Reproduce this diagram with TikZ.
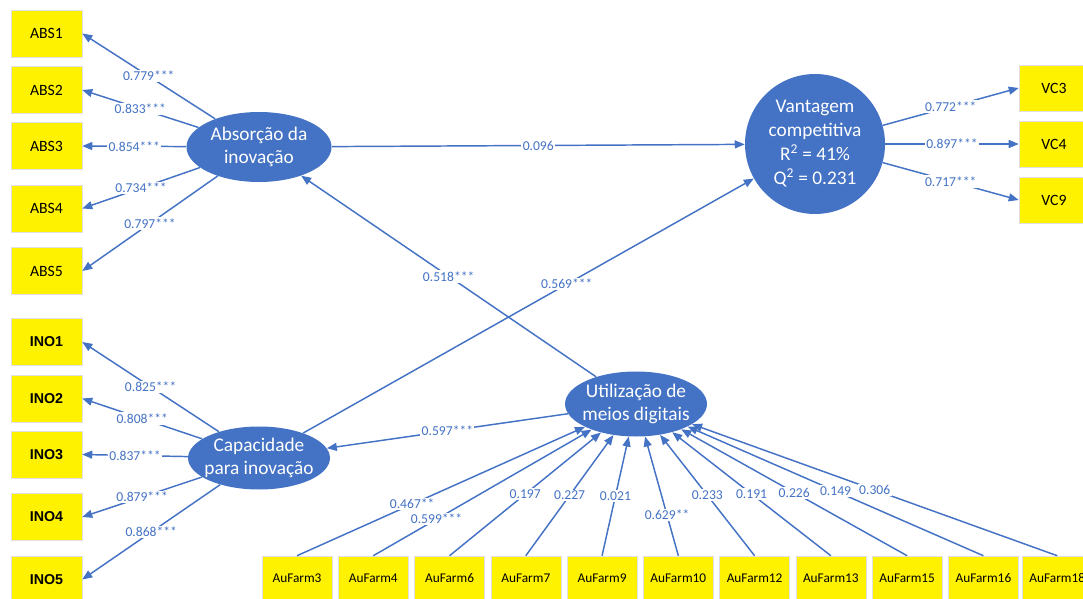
\documentclass[tikz,border=0pt]{standalone}
\usepackage{fontspec}
\setmainfont{Carlito}
\newfontfamily\inofont{Liberation Sans}
\usetikzlibrary{positioning, shapes.geometric, arrows.meta}

\definecolor{plsblue}{HTML}{4472C4}

\tikzset{
  latent/.style={ellipse, fill=plsblue, text=white, align=center, inner xsep=-5pt, inner ysep=0pt, font=\fontsize{14.5}{17.3}\selectfont},
  indicator/.style={rectangle, fill=yellow, draw=black!12, minimum width=53.25pt, minimum height=35.25pt, inner sep=0pt, font=\fontsize{11.8}{13}\selectfont},
  inobox/.style={indicator, font=\inofont\bfseries\fontsize{10.7}{13}\selectfont},
  farm/.style={indicator, minimum width=52.5pt, minimum height=33pt, font=\fontsize{10}{12}\selectfont},
  load/.style={draw=plsblue, line width=1.1pt, -{Triangle[length=7.5pt, width=6pt]}},
  coef/.style={fill=white, text=plsblue, inner sep=1pt, font=\fontsize{10.2}{12}\selectfont}
}

\begin{document}
\begin{tikzpicture}[x=0.75pt, y=-0.75pt]
  \useasboundingbox (0,0) rectangle (1083,599);

  % constructs
  \node[latent, minimum width=108.75pt, minimum height=52.5pt] (abs) at (259,147) {Absorção da\\inovação};
  \node[latent, minimum width=106.5pt, minimum height=47.25pt] (ino) at (259,458) {Capacidade\\para inovação};
  \node[latent, minimum width=106.5pt, minimum height=48.75pt] (util) at (636,404) {Utilização de\\meios digitais};
  \node[latent, circle, minimum size=105pt, inner sep=0pt, font=\fontsize{14.5}{18}\selectfont] (vc) at (815,144) {Vantagem\\competitiva\\R\textsuperscript{2} = 41\%\\Q\textsuperscript{2} = 0.231};

  % indicators
  \node[indicator] (abs1) at (46.5,33.5) {ABS1};
  \node[indicator] (abs2) at (46.5,90) {ABS2};
  \node[indicator] (abs3) at (46.5,146) {ABS3};
  \node[indicator] (abs4) at (46.5,208.5) {ABS4};
  \node[indicator] (abs5) at (46.5,271) {ABS5};

  \node[inobox] (ino1) at (46.5,342) {INO1};
  \node[inobox] (ino2) at (46.5,398.5) {INO2};
  \node[inobox] (ino3) at (46.5,454.5) {INO3};
  \node[inobox] (ino4) at (46.5,517) {INO4};
  \node[inobox] (ino5) at (46.5,579.5) {INO5};

  \node[indicator, minimum width=52.5pt, minimum height=34.5pt] (vc3) at (1054,88) {VC3};
  \node[indicator, minimum width=52.5pt, minimum height=34.5pt] (vc4) at (1054,144) {VC4};
  \node[indicator, minimum width=52.5pt, minimum height=34.5pt] (vc9) at (1054,200) {VC9};

  \node[farm] (f3) at (297,578) {AuFarm3};
  \node[farm, right=4.3pt of f3] (f4) {AuFarm4};
  \node[farm, right=4.3pt of f4] (f6) {AuFarm6};
  \node[farm, right=4.3pt of f6] (f7) {AuFarm7};
  \node[farm, right=4.3pt of f7] (f9) {AuFarm9};
  \node[farm, right=4.3pt of f9] (f10) {AuFarm10};
  \node[farm, right=4.3pt of f10] (f12) {AuFarm12};
  \node[farm, right=4.3pt of f12] (f13) {AuFarm13};
  \node[farm, right=4.3pt of f13] (f15) {AuFarm15};
  \node[farm, right=4.3pt of f15] (f16) {AuFarm16};
  \node[farm, right=2.5pt of f16] (f18) {AuFarm18};

  % outer loadings
  \draw[load] (abs) -- node[coef] {0.779***} (abs1.east);
  \draw[load] (abs) -- node[coef] {0.833***} (abs2.east);
  \draw[load] (abs) -- node[coef] {0.854***} (abs3.east);
  \draw[load] (abs) -- node[coef] {0.734***} (abs4.east);
  \draw[load] (abs) -- node[coef] {0.797***} (abs5.east);

  \draw[load] (ino) -- node[coef] {0.825***} (ino1.east);
  \draw[load] (ino) -- node[coef] {0.808***} (ino2.east);
  \draw[load] (ino) -- node[coef] {0.837***} (ino3.east);
  \draw[load] (ino) -- node[coef] {0.879***} (ino4.east);
  \draw[load] (ino) -- node[coef] {0.868***} (ino5.east);

  \draw[load] (vc) -- node[coef] {0.772***} (vc3.west);
  \draw[load] (vc) -- node[coef] {0.897***} (vc4.west);
  \draw[load] (vc) -- node[coef] {0.717***} (vc9.west);

  % formative weights
  \draw[load] (f3.north) -- node[coef, pos=0.4] {0.467**} (util);
  \draw[load] (f4.north) -- node[coef, pos=0.29] {0.599***} (util);
  \draw[load] (f6.north) -- node[coef] {0.197} (util);
  \draw[load] (f7.north) -- node[coef] {0.227} (util);
  \draw[load] (f9.north) -- node[coef] {0.021} (util);
  \draw[load] (f10.north) -- node[coef, pos=0.34] {0.629**} (util);
  \draw[load] (f12.north) -- node[coef] {0.233} (util);
  \draw[load] (f13.north) -- node[coef] {0.191} (util);
  \draw[load] (f15.north) -- node[coef] {0.226} (util);
  \draw[load] (f16.north) -- node[coef] {0.149} (util);
  \draw[load] (f18.north) -- node[coef] {0.306} (util);

  % structural paths
  \draw[load] (abs) -- node[coef] {0.096} (vc);
  \draw[load] (util) -- node[coef] {0.518***} (abs);
  \draw[load] (util) -- node[coef] {0.597***} (ino);
  \draw[load] (ino) -- node[coef, pos=0.585] {0.569***} (vc);

\end{tikzpicture}
\end{document}
